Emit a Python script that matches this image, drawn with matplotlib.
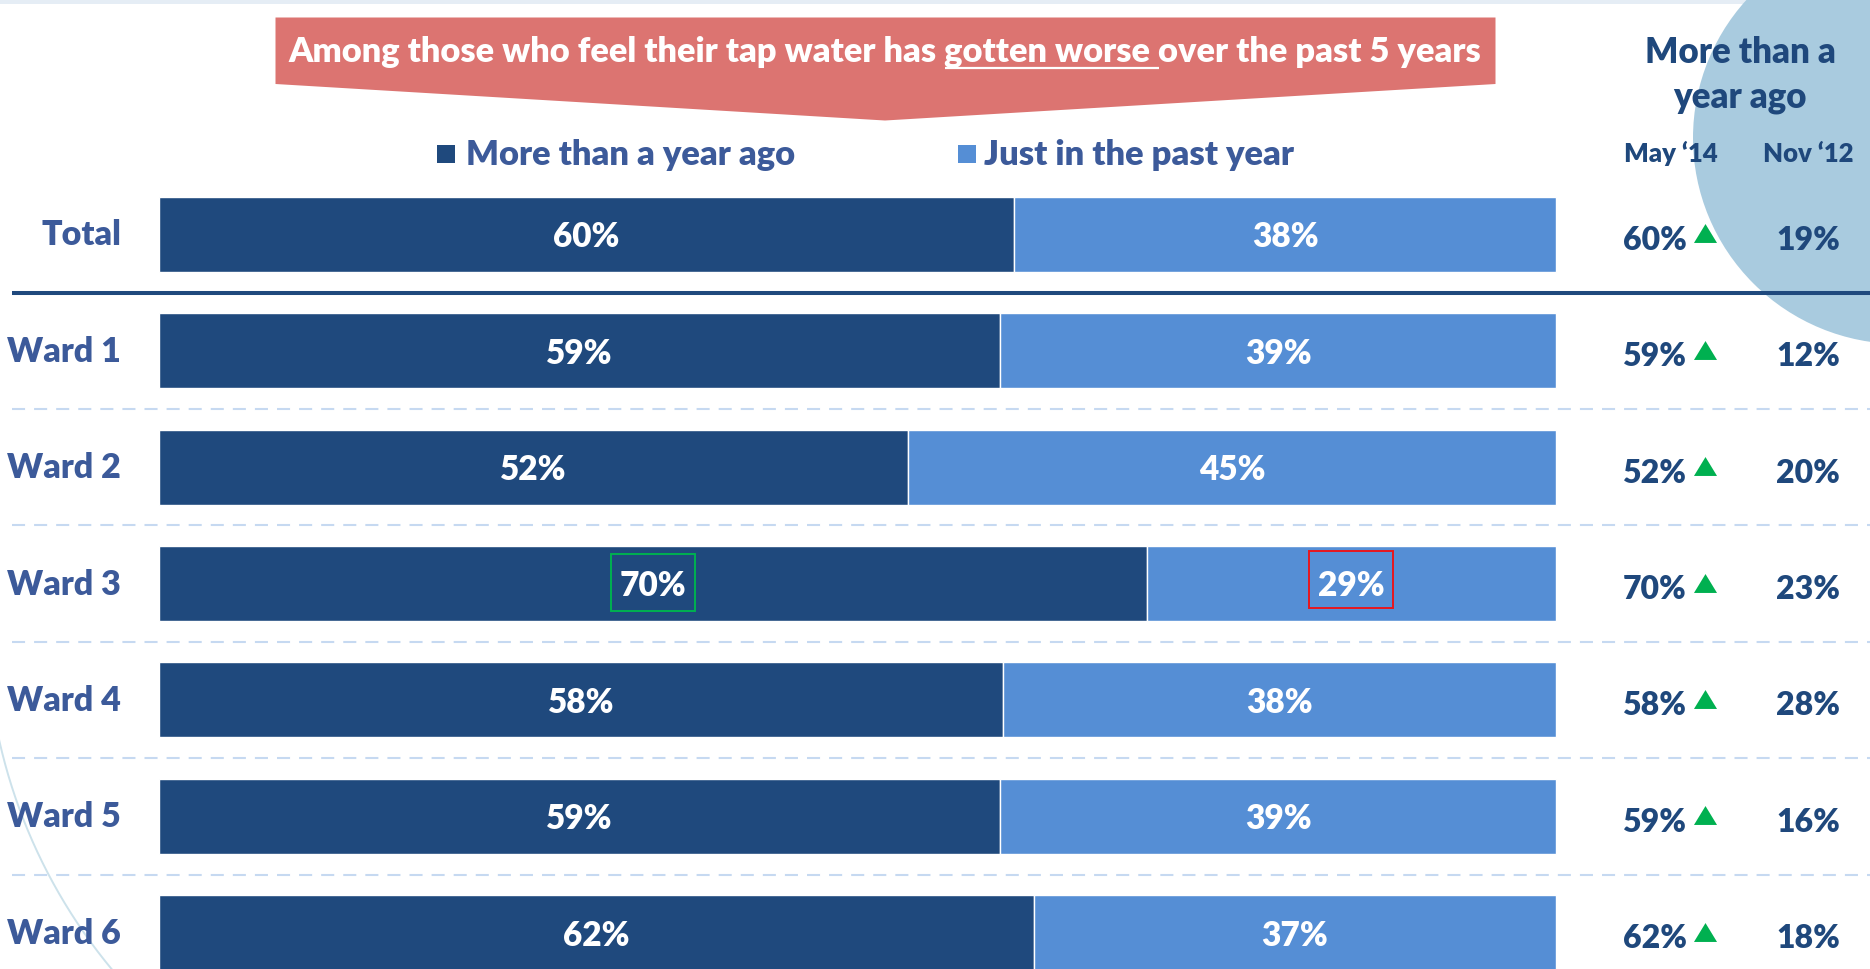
import numpy as np
import matplotlib
matplotlib.use("Agg")
import matplotlib.pyplot as plt
from matplotlib.patches import Polygon, Rectangle, Ellipse

# ---- data ---------------------------------------------------------------
categories = ["Total", "Ward 1", "Ward 2", "Ward 3", "Ward 4", "Ward 5", "Ward 6"]
more_than_year = [60, 59, 52, 70, 58, 59, 62]
just_past_year = [38, 39, 45, 29, 38, 39, 37]
may_14 = [60, 59, 52, 70, 58, 59, 62]
nov_12 = [19, 12, 20, 23, 28, 16, 18]
series_labels = ["More than a year ago", "Just in the past year"]
period_labels = ["May \u201814", "Nov \u201812"]
column_header = ["More than a", "year ago"]
title_before = "Among those who feel their tap water has "
title_underlined = "gotten worse "
title_after = "over the past 5 years"
highlight_row = "Ward 3"

# ---- style --------------------------------------------------------------
W, H, DPI = 1870, 969, 100
DARK = "#1f497d"
LIGHT = "#558ed5"
LABEL = "#3c5a9a"
HEAD = "#1f487c"
BANNER = "#dc7471"
CIRCLE = "#a9cbdf"
DASH = "#c6d9f1"
UP = "#00b050"
FONT = ["Lato", "DejaVu Sans"]
WEIGHT = "heavy"

plt.rcParams["font.family"] = FONT
plt.rcParams["font.weight"] = WEIGHT
plt.rcParams["lines.scale_dashes"] = False

fig = plt.figure(figsize=(W / DPI, H / DPI), dpi=DPI)
fig.patch.set_facecolor("white")

# decoration layer in pixel coordinates (y down)
deco = fig.add_axes([0, 0, 1, 1], zorder=0)
deco.set_xlim(0, W)
deco.set_ylim(H, 0)
deco.axis("off")

# chart layer: x = share of the row, y = row index
BAR_L, BAR_R = 159, 1556
ROW0, PITCH = 234.3, 116.4
span = BAR_R - BAR_L
ax = fig.add_axes([0, 0, 1, 1], zorder=1)
ax.set_xlim(-BAR_L / span, (W - BAR_L) / span)
ax.set_ylim((H - ROW0) / PITCH, -ROW0 / PITCH)
ax.axis("off")


def sx(px):
    return (px - BAR_L) / span


def dy(px):
    return px / PITCH


def cap_px(size):
    return 0.7165 * size * DPI / 72.0


# background accents
deco.add_patch(Rectangle((0, 0), W, 4, color="#e5edf5", lw=0, zorder=0))
deco.add_patch(Ellipse((1900, 138), 414, 412, color=CIRCLE, lw=0, zorder=1))
theta = np.radians(np.linspace(134, 169, 200))
deco.plot(531 + 545 * np.cos(theta), 621 + 545 * np.sin(theta),
          color="#cde2eb", lw=1.4, zorder=1, solid_capstyle="butt")

# banner arrow
deco.add_patch(Polygon([(275.5, 17.5), (1495.5, 17.5), (1495.5, 84),
                        (885, 120.5), (275.5, 84)],
                       closed=True, color=BANNER, lw=0, zorder=2))
full_title = title_before + title_underlined + title_after
tkw = dict(color="white", fontweight=WEIGHT, family=FONT)
t = deco.text(885, 62, full_title, ha="center", va="baseline",
              fontsize=22, zorder=3, **tkw)
renderer = fig.canvas.get_renderer()
t.set_fontsize(22 * 1190 / t.get_window_extent(renderer).width)
size = t.get_fontsize()


def width_of(s):
    tmp = deco.text(0, 0, s, fontsize=size, **tkw)
    w = tmp.get_window_extent(renderer).width
    tmp.remove()
    return w


x0 = t.get_window_extent(renderer).x0
wx = width_of("X")
u0 = x0 + width_of(title_before + "X") - wx
u1 = x0 + width_of(title_before + title_underlined + "X") - wx
deco.plot([u0, u1], [68, 68], color="white", lw=1.6, zorder=3,
          solid_capstyle="butt")

# legend
for (x_sq, x_txt), lab, col in zip([(437, 466), (958, 984)], series_labels,
                                   [DARK, LIGHT]):
    deco.add_patch(Rectangle((x_sq, 145), 18, 18, color=col, lw=0, zorder=2))
    deco.text(x_txt, 165, lab, ha="left", va="baseline", fontsize=24.8,
              color=LABEL, zorder=3)

# right-hand column header
deco.text(1740, 63, column_header[0], ha="center", va="baseline",
          fontsize=25, color=HEAD, zorder=3)
deco.text(1740, 107, column_header[1], ha="center", va="baseline",
          fontsize=25, color=HEAD, zorder=3)
for xc, lab in zip([1671, 1808], period_labels):
    deco.text(xc, 162, lab, ha="center", va="baseline", fontsize=18.5,
              color=HEAD, zorder=3)

# row separators
ax.plot([sx(12), sx(W)], [0.5, 0.5], color=DARK, lw=2.9, zorder=2,
        solid_capstyle="butt")
for i in range(1, len(categories) - 1):
    ax.plot([sx(12), sx(W)], [i + 0.5, i + 0.5], color=DASH, lw=1.5,
            linestyle=(0, (9.4, 6.5)), zorder=2)

# stacked 100% bars
a = np.array(more_than_year, float)
b = np.array(just_past_year, float)
sa = a / (a + b)
sb = b / (a + b)
y = np.arange(len(categories))
bh = 75 / PITCH
ax.barh(y, sa, height=bh, color=DARK, edgecolor="white", linewidth=1.0,
        zorder=3)
ax.barh(y, sb, left=sa, height=bh, color=LIGHT, edgecolor="white",
        linewidth=1.0, zorder=3)

LBL = 24
ROWLBL = 24.5
VAL = 23
for i in range(len(categories)):
    base = i + dy(cap_px(LBL) / 2 + 1)
    ax.text(sa[i] / 2, base, f"{more_than_year[i]}%", ha="center",
            va="baseline", color="white", fontsize=LBL, zorder=5)
    ax.text(sa[i] + sb[i] / 2, base, f"{just_past_year[i]}%", ha="center",
            va="baseline", color="white", fontsize=LBL, zorder=5)
    # category label
    ax.text(sx(121), i + dy(cap_px(ROWLBL) / 2 - 1), categories[i],
            ha="right", va="baseline", color=LABEL, fontsize=ROWLBL, zorder=5)
    # trend columns
    vbase = i + dy(15.5)
    ax.text(sx(1654.5), vbase, f"{may_14[i]}%", ha="center", va="baseline",
            color=HEAD, fontsize=VAL, zorder=5)
    ax.text(sx(1808), vbase, f"{nov_12[i]}%", ha="center", va="baseline",
            color=HEAD, fontsize=VAL, zorder=5)
    if may_14[i] > nov_12[i]:
        ax.plot(sx(1704.5), i - dy(1), linestyle="none",
                marker=[(-1, -0.82), (1, -0.82), (0, 0.82)],
                markersize=16.6, color=UP, markeredgewidth=0, zorder=5)

# highlight boxes on one row
hi = categories.index(highlight_row)
for xc, yc_off, col in [(sa[hi] / 2, -1, UP),
                        (sa[hi] + sb[hi] / 2, -4, "#e8161d")]:
    ax.add_patch(Rectangle((xc - 42 / span, hi + dy(yc_off) - dy(28.5)),
                           84 / span, dy(57), fill=False, edgecolor=col,
                           lw=1.4, zorder=6))

fig.savefig("out.png", dpi=DPI, facecolor="white")
